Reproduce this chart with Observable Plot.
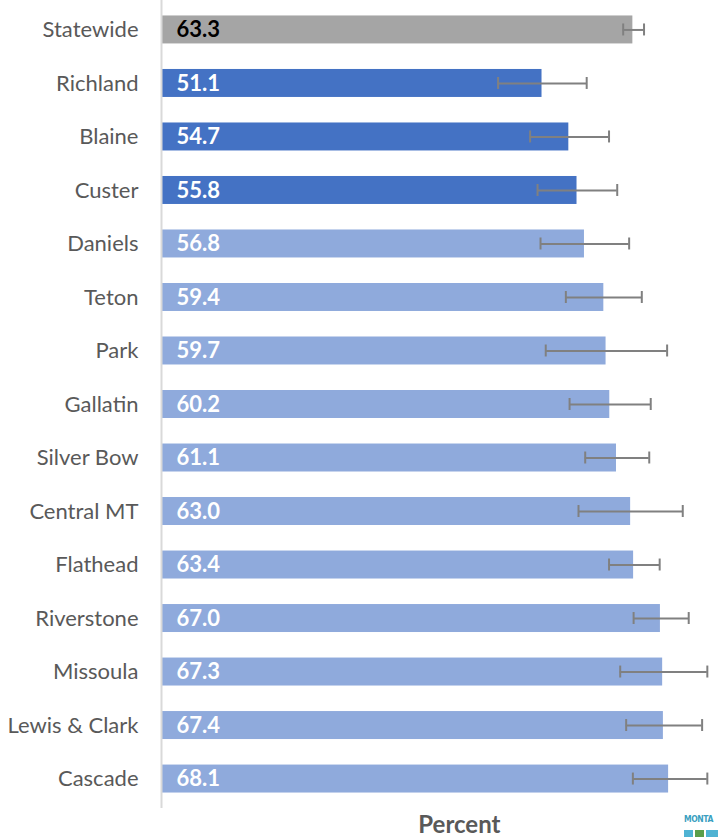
<!DOCTYPE html>
<html>
<head>
<meta charset="utf-8">
<script src="https://cdn.jsdelivr.net/npm/d3@7"></script>
<script src="https://cdn.jsdelivr.net/npm/@observablehq/plot@0.6"></script>
<style>
  body { margin: 0; background: #fff; overflow: hidden; }
  #wrap { position: relative; width: 718px; height: 837px; overflow: hidden; }
  #logo { position: absolute; left: 684px; top: 815px; font-family: "DejaVu Sans Condensed", Lato, sans-serif; font-weight: bold; color: #3a9fc1; line-height: 1; }
  #logo .a { font-size: 8.5px; letter-spacing: -0.4px; }
  .blk { position: absolute; background: #4fb3d3; }
</style>
</head>
<body>
<div id="wrap"><div id="chart"></div>
<div id="logo"><div class="a">MONTA</div></div>
<div class="blk" style="left:684px;top:830px;width:9px;height:7px;"></div>
<div class="blk" style="left:695px;top:830px;width:9px;height:7px;background:#5a9e4a;"></div>
<div class="blk" style="left:706px;top:830px;width:12px;height:7px;"></div>
</div>
<script>
const names = ["Statewide","Richland","Blaine","Custer","Daniels","Teton","Park","Gallatin","Silver Bow","Central MT","Flathead","Riverstone","Missoula","Lewis & Clark","Cascade"];
const values = [63.3,51.1,54.7,55.8,56.8,59.4,59.7,60.2,61.1,63.0,63.4,67.0,67.3,67.4,68.1];
const lows  = [62.0,45.2,49.5,50.5,50.9,54.3,51.6,54.8,56.9,56.0,60.1,63.4,61.6,62.4,63.3];
const highs = [64.8,57.1,60.1,61.2,62.8,64.5,67.9,65.7,65.5,70.0,66.9,70.8,73.3,72.6,73.3];
const groups = ["state","low","low","low","other","other","other","other","other","other","other","other","other","other","other"];

const data = names.map((n, i) => ({name: n, value: values[i], lo: lows[i], hi: highs[i], group: groups[i]}));

const chart = Plot.plot({
  width: 718,
  height: 837,
  marginTop: 0,
  marginBottom: 29,
  marginLeft: 161,
  marginRight: 0,
  x: {domain: [0, 74.8], axis: null},
  y: {domain: names, paddingInner: 0.477, paddingOuter: 0.289, round: false, label: null},
  color: {domain: ["state","low","other"], range: ["#a5a5a5","#4472c4","#8faadc"]},
  style: {fontFamily: "Lato, sans-serif", background: "#fff"},
  marks: [
    Plot.barX(data, {y: "name", x: "value", fill: "group"}),
    Plot.ruleY(data, {y: "name", x1: "lo", x2: "hi", stroke: "#808080", strokeWidth: 2}),
    Plot.tickX(data, {y: "name", x: "lo", stroke: "#808080", strokeWidth: 2, insetTop: 8, insetBottom: 8}),
    Plot.tickX(data, {y: "name", x: "hi", stroke: "#808080", strokeWidth: 2, insetTop: 8, insetBottom: 8}),
    Plot.text(data, {y: "name", x: 0, text: d => d.value.toFixed(1), textAnchor: "start", dx: 15, fill: d => d.group === "state" ? "#000" : "#fff", fontWeight: "bold", fontSize: 22}),
    Plot.ruleX([0], {stroke: "#d9d9d9", strokeWidth: 2}),
    Plot.axisY({tickSize: 0, tickPadding: 23, fontSize: 22, color: "#595959", label: null}),
    Plot.text(["Percent"], {x: 40, frameAnchor: "bottom", dy: 24, fontSize: 24, fontWeight: "bold", fill: "#595959"})
  ]
});
document.getElementById("chart").appendChild(chart);
</script>
</body>
</html>
